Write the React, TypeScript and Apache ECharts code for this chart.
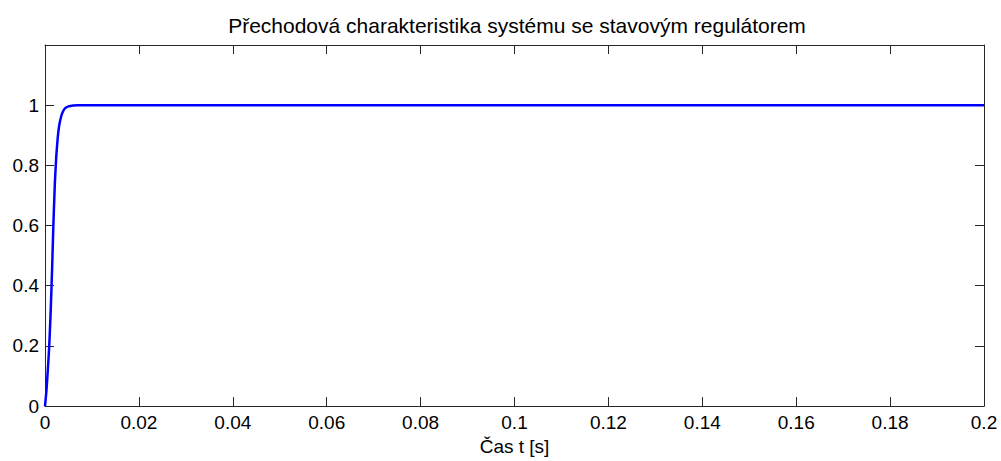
import React, { useEffect, useRef } from "react";
import * as echarts from "echarts";

const titleText = "Přechodová charakteristika systému se stavovým regulátorem";
const xAxisName = "Čas t [s]";
const timeValues = [0, 0.0003, 0.0006, 0.0009, 0.0012, 0.0015, 0.0018, 0.0021, 0.0024, 0.0027, 0.003, 0.0034, 0.0038, 0.0043, 0.005, 0.006, 0.007, 0.008, 0.05, 0.1, 0.15, 0.2];
const responseValues = [0, 0.05, 0.12, 0.2, 0.31, 0.45, 0.61, 0.74, 0.83, 0.89, 0.93, 0.96, 0.978, 0.99, 0.996, 0.999, 1.0, 1.0, 1.0, 1.0, 1.0, 1.0];

const FONT = "'Liberation Sans', Arial, sans-serif";

export default function App() {
  const ref = useRef<HTMLDivElement>(null);
  useEffect(() => {
    if (!ref.current) return;
    const chart = echarts.init(ref.current, undefined, { renderer: "svg" });
    const data = timeValues.map((t, i) => [t, responseValues[i]]);
    const axisLine = { show: true, onZero: false, lineStyle: { color: "#262626", width: 1 } };
    const tick = { show: true, inside: true, length: 9, lineStyle: { color: "#262626", width: 1 } };
    chart.setOption({
      animation: false,
      backgroundColor: "#ffffff",
      title: {
        text: titleText,
        left: 512,
        textAlign: "center",
        top: 10,
        textStyle: { fontFamily: FONT, fontSize: 21, fontWeight: "normal", color: "#000" },
      },
      grid: { left: 45, right: 17, top: 45, bottom: 49, containLabel: false },
      xAxis: [
        {
          type: "value",
          min: 0,
          max: 0.2,
          interval: 0.02,
          position: "bottom",
          name: xAxisName,
          nameLocation: "middle",
          nameGap: 29,
          nameTextStyle: { fontFamily: FONT, fontSize: 19, color: "#000" },
          axisLine,
          axisTick: tick,
          splitLine: { show: false },
          axisLabel: { fontFamily: FONT, fontSize: 19, color: "#000", margin: 7, showMinLabel: true, showMaxLabel: true },
        },
        {
          type: "value",
          min: 0,
          max: 0.2,
          interval: 0.02,
          position: "top",
          axisLine,
          axisTick: tick,
          splitLine: { show: false },
          axisLabel: { show: false },
        },
      ],
      yAxis: [
        {
          type: "value",
          min: 0,
          max: 1.2,
          interval: 0.2,
          position: "left",
          axisLine,
          axisTick: tick,
          splitLine: { show: false },
          axisLabel: {
            fontFamily: FONT,
            fontSize: 19,
            color: "#000",
            margin: 6,
            formatter: (v: number) => (v > 1.05 ? "" : String(Math.round(v * 10) / 10)),
          },
        },
        {
          type: "value",
          min: 0,
          max: 1.2,
          interval: 0.2,
          position: "right",
          axisLine,
          axisTick: tick,
          splitLine: { show: false },
          axisLabel: { show: false },
        },
      ],
      series: [
        {
          type: "line",
          data,
          xAxisIndex: 0,
          yAxisIndex: 0,
          showSymbol: false,
          smooth: 0.2,
          lineStyle: { color: "#0000ff", width: 2.5 },
        },
      ],
    });
    return () => chart.dispose();
  }, []);
  return <div ref={ref} style={{ width: 1001, height: 461, position: "absolute", left: 0, top: 0 }} />;
}
